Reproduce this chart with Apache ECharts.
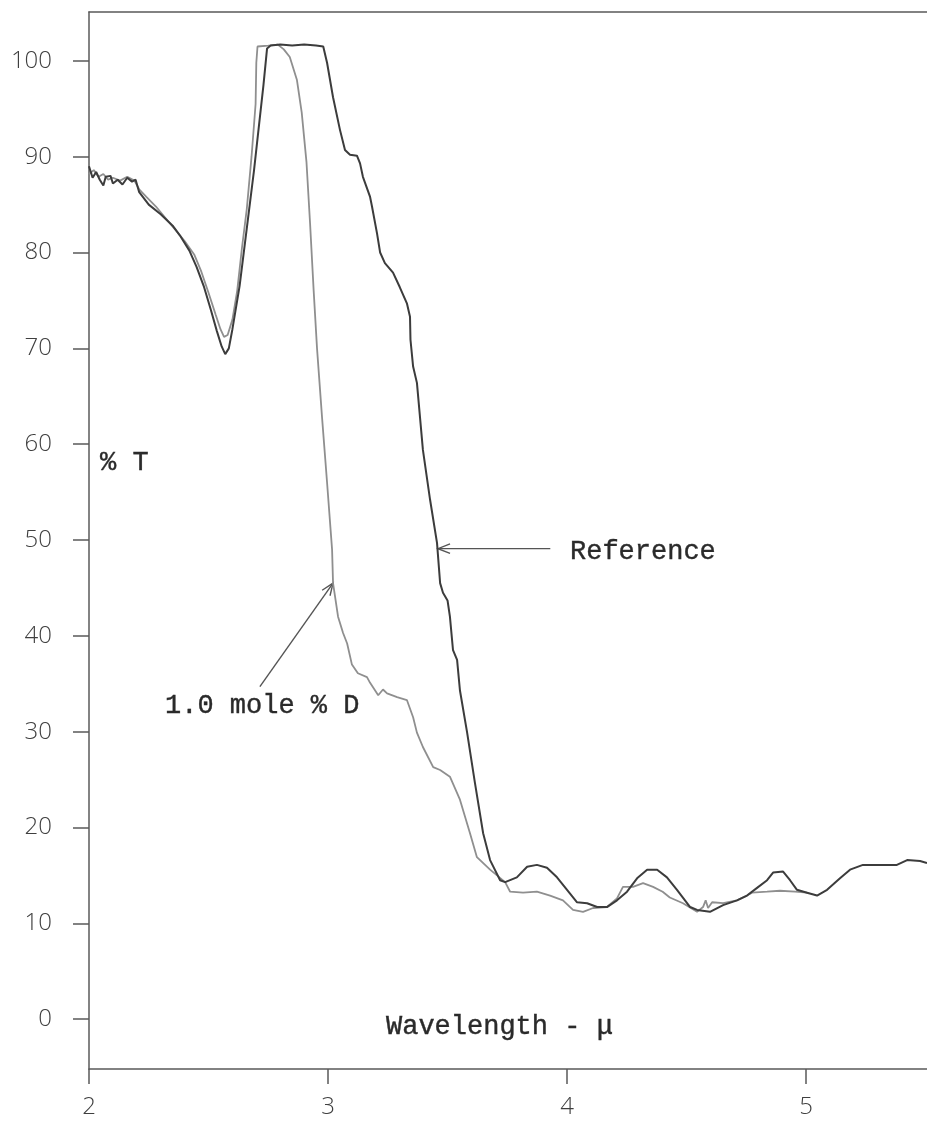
<!DOCTYPE html>
<html>
<head>
<meta charset="utf-8">
<script src="https://cdn.jsdelivr.net/npm/echarts@6/dist/echarts.min.js"></script>
<style>
  html, body { margin: 0; padding: 0; background: #fff; }
  #chart { width: 927px; height: 1121px; }
</style>
</head>
<body>
<div id="chart"></div>
<script>
// Infrared transmission spectra, % T against wavelength (microns)
const xTicks = [2, 3, 4, 5];
const yTicks = [0, 10, 20, 30, 40, 50, 60, 70, 80, 90, 100];

const refWavelength = [
  2.00, 2.015, 2.03, 2.045, 2.06, 2.07, 2.09, 2.10, 2.12, 2.14, 2.16, 2.18, 2.195, 2.21,
  2.25, 2.30, 2.35, 2.38, 2.42, 2.45, 2.48, 2.51, 2.535, 2.555, 2.57, 2.585, 2.60, 2.63,
  2.66, 2.69, 2.71, 2.73, 2.745, 2.76, 2.80, 2.85, 2.90, 2.95, 2.98, 2.996, 3.021, 3.05,
  3.071, 3.092, 3.121, 3.134, 3.146, 3.176, 3.184, 3.205, 3.218, 3.238, 3.272, 3.30, 3.33,
  3.343, 3.345, 3.356, 3.372, 3.397, 3.427, 3.456, 3.469, 3.481, 3.50, 3.51, 3.523, 3.54,
  3.552, 3.582, 3.615, 3.649, 3.678, 3.72, 3.741, 3.79, 3.833, 3.874, 3.916, 3.958, 4.0,
  4.042, 4.084, 4.126, 4.167, 4.209, 4.251, 4.293, 4.335, 4.377, 4.418, 4.46, 4.515, 4.544,
  4.598, 4.653, 4.711, 4.753, 4.795, 4.837, 4.862, 4.904, 4.933, 4.962, 5.004, 5.046, 5.088,
  5.142, 5.184, 5.238, 5.31, 5.38, 5.423, 5.477, 5.506
];
const refT = [
  89.0, 87.8, 88.4, 87.6, 87.0, 87.9, 88.0, 87.2, 87.6, 87.1, 87.8, 87.4, 87.6, 86.3,
  85.0, 84.0, 82.8, 81.8, 80.2, 78.5, 76.5, 74.0, 71.8, 70.2, 69.4, 70.0, 72.0, 76.5,
  82.5, 88.5, 93.0, 97.5, 101.3, 101.6, 101.7, 101.6, 101.7, 101.6, 101.5, 99.8, 96.2, 92.8,
  90.7, 90.2, 90.1, 89.3, 87.9, 85.8, 84.8, 82.0, 80.0, 78.9, 77.9, 76.4, 74.7,
  73.3, 70.9, 68.1, 66.4, 59.4, 54.2, 49.7, 45.5, 44.5, 43.7, 42.0, 38.5, 37.5,
  34.3, 29.9, 24.6, 19.4, 16.6, 14.5, 14.3, 14.8, 15.9, 16.1, 15.8, 14.8, 13.5,
  12.2, 12.1, 11.7, 11.7, 12.4, 13.3, 14.7, 15.6, 15.6, 14.8, 13.5, 11.7, 11.4,
  11.2, 11.9, 12.4, 12.9, 13.7, 14.5, 15.3, 15.4, 14.5, 13.5, 13.2, 12.9, 13.5,
  14.7, 15.6, 16.1, 16.1, 16.1, 16.6, 16.5, 16.3
];

const dWavelength = [
  2.00, 2.02, 2.04, 2.06, 2.08, 2.10, 2.13, 2.16, 2.19, 2.21, 2.24, 2.28, 2.32, 2.36,
  2.40, 2.44, 2.47, 2.50, 2.53, 2.55, 2.565, 2.58, 2.60, 2.62, 2.64, 2.66, 2.68, 2.693,
  2.697, 2.70, 2.705, 2.75, 2.79, 2.815, 2.84, 2.87, 2.89, 2.91, 2.925, 2.94, 2.954, 2.975,
  2.996, 3.017, 3.021, 3.042, 3.063, 3.08, 3.10, 3.125, 3.163, 3.176, 3.21, 3.23, 3.247,
  3.289, 3.33, 3.356, 3.372, 3.397, 3.44, 3.469, 3.51, 3.552, 3.594, 3.623, 3.678, 3.741,
  3.762, 3.816, 3.874, 3.929, 3.983, 4.025, 4.067, 4.109, 4.167, 4.209, 4.234, 4.276, 4.318,
  4.36, 4.40, 4.43, 4.485, 4.544, 4.569, 4.58, 4.59, 4.607, 4.653, 4.711, 4.753, 4.774,
  4.837, 4.891, 4.954, 5.004
];
const dT = [
  88.2, 88.6, 87.9, 88.2, 87.6, 87.8, 87.5, 87.9, 87.5, 86.6, 85.8, 84.8, 83.6, 82.4,
  81.2, 79.8, 78.0, 75.8, 73.5, 72.0, 71.2, 71.4, 73.0, 76.0, 80.5, 84.5, 90.0, 94.2,
  95.5, 99.8, 101.5, 101.6, 101.7, 101.2, 100.4, 98.0, 94.6, 89.4, 83.0, 76.0, 70.0, 62.8,
  56.0, 49.0, 45.5, 42.0, 40.3, 39.2, 37.0, 36.1, 35.7, 35.1, 33.8, 34.4, 34.0,
  33.6, 33.3, 31.5, 29.9, 28.4, 26.3, 26.0, 25.3, 22.9, 19.4, 16.9, 15.6, 14.3,
  13.3, 13.2, 13.3, 12.9, 12.4, 11.4, 11.2, 11.6, 11.7, 12.6, 13.8, 13.8, 14.2,
  13.8, 13.3, 12.7, 12.1, 11.2, 11.7, 12.4, 11.6, 12.2, 12.1, 12.4, 12.9, 13.2,
  13.3, 13.4, 13.3, 13.2
];

// Callout arrows: [tail, tip] in (wavelength, %T)
const refArrow = [[3.93, 49.1], [3.46, 49.1]];
const dArrow = [[2.715, 34.7], [3.021, 45.5]];

const X_MIN = 2, X_MAX = 5.506, Y_MIN = -5.2, Y_MAX = 105.1;
const AXIS_COLOR = '#5a5a5a';
const TICK_FONT = { fontFamily: 'Open Sans', fontWeight: 300, fontSize: 24, color: '#3f3f3f' };
const TYPE_FONT = 'Liberation Mono';

const zip = (xs, ys) => xs.map((x, i) => [x, ys[i]]);

const chart = echarts.init(document.getElementById('chart'), null, { renderer: 'canvas' });

chart.setOption({
  animation: false,
  backgroundColor: '#ffffff',
  grid: { left: 89, right: 0, top: 12, bottom: 52, outerBoundsMode: 'none' },
  xAxis: [
    {
      type: 'value', min: X_MIN, max: X_MAX, position: 'bottom',
      axisLine: { show: true, onZero: false, lineStyle: { color: AXIS_COLOR, width: 1.5 } },
      axisTick: { show: true, length: 15, customValues: xTicks, lineStyle: { color: AXIS_COLOR, width: 1.5 } },
      axisLabel: { show: true, margin: 26, customValues: xTicks, ...TICK_FONT },
      splitLine: { show: false }
    },
    {
      type: 'value', position: 'top', min: X_MIN, max: X_MAX,
      axisLine: { show: true, onZero: false, lineStyle: { color: AXIS_COLOR, width: 1.5 } },
      axisTick: { show: false }, axisLabel: { show: false }, splitLine: { show: false }
    }
  ],
  yAxis: {
    type: 'value', min: Y_MIN, max: Y_MAX,
    axisLine: { show: true, onZero: false, lineStyle: { color: AXIS_COLOR, width: 1.5 } },
    axisTick: { show: true, length: 16, customValues: yTicks, lineStyle: { color: AXIS_COLOR, width: 1.5 } },
    axisLabel: { show: true, margin: 37, customValues: yTicks, ...TICK_FONT },
    splitLine: { show: false }
  },
  series: [
    {
      name: '1.0 mole % D', type: 'line', xAxisIndex: 0, yAxisIndex: 0,
      data: zip(dWavelength, dT), showSymbol: false, symbol: 'none', smooth: false,
      lineStyle: { color: '#8f8f8f', width: 1.8 }, z: 2
    },
    {
      name: 'Reference', type: 'line', xAxisIndex: 0, yAxisIndex: 0,
      data: zip(refWavelength, refT), showSymbol: false, symbol: 'none', smooth: false,
      lineStyle: { color: '#3c3c3c', width: 2 }, z: 3
    }
  ]
});

// Annotations: axis titles, curve labels and their arrows
function arrowShapes(pair) {
  const a = chart.convertToPixel({ xAxisIndex: 0, yAxisIndex: 0 }, pair[0]);
  const b = chart.convertToPixel({ xAxisIndex: 0, yAxisIndex: 0 }, pair[1]);
  const ang = Math.atan2(a[1] - b[1], a[0] - b[0]);
  const head = 13, spread = 0.38;
  const style = { stroke: '#555', lineWidth: 1.4 };
  const wing = s => [b[0] + head * Math.cos(ang + s), b[1] + head * Math.sin(ang + s)];
  return [
    { type: 'line', shape: { x1: a[0], y1: a[1], x2: b[0], y2: b[1] }, style },
    { type: 'polyline', shape: { points: [wing(spread), b, wing(-spread)] }, style }
  ];
}

const textStyle = (text, x, y) => ({
  type: 'text', x, y,
  style: {
    text, font: `27px "${TYPE_FONT}"`, fill: '#2a2a2a',
    stroke: '#2a2a2a', lineWidth: 0.4,
    textVerticalAlign: 'middle', textAlign: 'left'
  }
});

chart.setOption({
  graphic: [
    textStyle('% T', 100, 463),
    textStyle('Reference', 570, 552),
    textStyle('1.0 mole % D', 165, 706),
    textStyle('Wavelength - μ', 386, 1027),
    ...arrowShapes(refArrow),
    ...arrowShapes(dArrow)
  ]
});
</script>
</body>
</html>
